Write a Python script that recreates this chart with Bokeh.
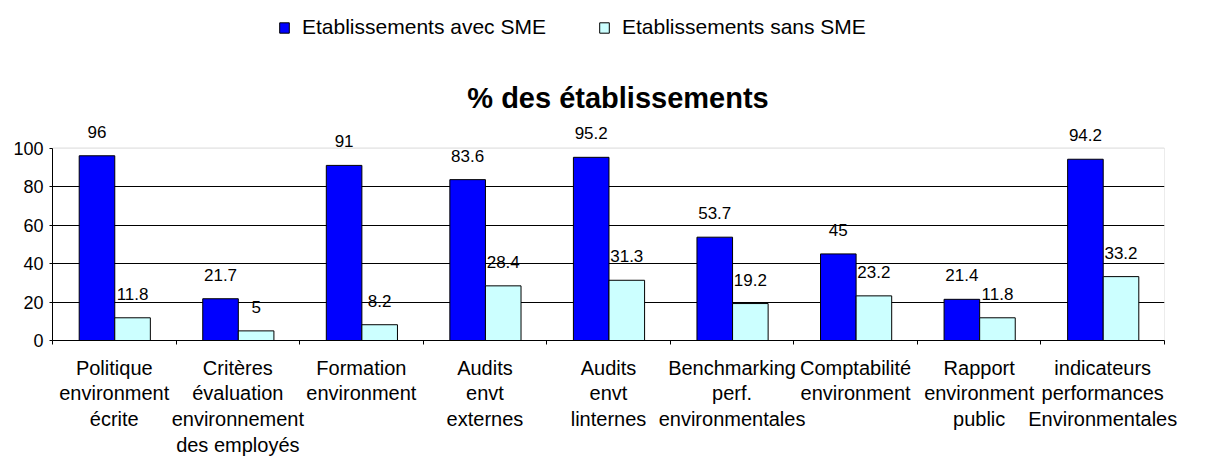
from bokeh.plotting import figure
from bokeh.models import (Range1d, FixedTicker, ColumnDataSource, LabelSet, Label,
                          Legend, LegendItem, BoxAnnotation)
from bokeh.core.properties import value
from bokeh.embed import file_html
from bokeh.resources import INLINE

# ---- data ----
categories = [
    "Politique\nenvironment\nécrite",
    "Critères\névaluation\nenvironnement\ndes employés",
    "Formation\nenvironment",
    "Audits\nenvt\nexternes",
    "Audits\nenvt\nlinternes",
    "Benchmarking\nperf.\nenvironmentales",
    "Comptabilité\nenvironment",
    "Rapport\nenvironment\npublic",
    "indicateurs\nperformances\nEnvironmentales",
]
avec_sme = [96, 21.7, 91, 83.6, 95.2, 53.7, 45, 21.4, 94.2]
sans_sme = [11.8, 5, 8.2, 28.4, 31.3, 19.2, 23.2, 11.8, 33.2]
y_ticks = [0, 20, 40, 60, 80, 100]
series_names = ["Etablissements avec SME", "Etablissements sans SME"]
chart_title = "% des établissements"

FONT = "Liberation Sans"
n = len(categories)
centers = [i + 0.5 for i in range(n)]
y_top = 176.7  # frame reaches the top of the canvas: room for legend and title

src_a = ColumnDataSource(dict(x=[i + 0.36 for i in range(n)], top=avec_sme,
                              label=[f"{v:g}" for v in avec_sme]))
src_s = ColumnDataSource(dict(x=[i + 0.648 for i in range(n)], top=sans_sme,
                              label=[f"{v:g}" for v in sans_sme]))

p = figure(width=1220, height=459, x_range=Range1d(0, n), y_range=Range1d(0, y_top),
           output_backend="svg", toolbar_location=None,
           min_border_left=52, min_border_right=56, min_border_top=0, min_border_bottom=118)

p.background_fill_color = "white"
p.border_fill_color = "white"
p.outline_line_color = None

# plot-area box (0..100)
p.add_layout(BoxAnnotation(left=0, right=n, bottom=0, top=y_ticks[-1], fill_alpha=0,
                           line_color="#808080", line_width=1, level="underlay"))

# title
p.add_layout(Label(x=565.5, y=242.7, x_units="screen", y_units="screen",
                   text=chart_title, text_align="center", text_baseline="middle",
                   text_font=FONT, text_font_size="29px", text_font_style="bold",
                   text_color="black"))

# bars
r1 = p.vbar(x="x", top="top", width=0.288, source=src_a,
            fill_color="#0000FF", line_color="black", line_width=1)
r2 = p.vbar(x="x", top="top", width=0.288, source=src_s,
            fill_color="#CCFFFF", line_color="black", line_width=1)

for src in (src_a, src_s):
    p.add_layout(LabelSet(x="x", y="top", text="label", source=src, y_offset=24,
                          text_align="center", text_baseline="middle",
                          text_font=value(FONT), text_font_size="17px",
                          text_color="black"))

# grid
p.xgrid.visible = False
p.ygrid.ticker = FixedTicker(ticks=y_ticks[:-1])
p.ygrid.grid_line_color = "black"
p.ygrid.grid_line_width = 1

# x axis
xa = p.xaxis[0]
xa.ticker = FixedTicker(ticks=centers, minor_ticks=list(range(n + 1)))
xa.major_label_overrides = {c: lab for c, lab in zip(centers, categories)}
xa.major_tick_in = 0
xa.major_tick_out = 0
xa.major_tick_line_color = None
xa.minor_tick_in = 0
xa.minor_tick_out = 4
xa.minor_tick_line_color = "black"
xa.axis_line_color = "black"
xa.major_label_text_font = FONT
xa.major_label_text_font_size = "20px"
xa.major_label_text_color = "black"
xa.major_label_text_line_height = 1.18
xa.major_label_standoff = 12

# y axis
ya = p.yaxis[0]
ya.ticker = FixedTicker(ticks=y_ticks)
ya.bounds = (y_ticks[0], y_ticks[-1])
ya.major_tick_in = 0
ya.major_tick_out = 3
ya.minor_tick_line_color = None
ya.axis_line_color = "black"
ya.major_tick_line_color = "black"
ya.major_label_text_font = FONT
ya.major_label_text_font_size = "18px"
ya.major_label_text_color = "black"
ya.major_label_standoff = 6

# legend
legend = Legend(items=[LegendItem(label=series_names[0], renderers=[r1]),
                       LegendItem(label=series_names[1], renderers=[r2])],
                orientation="horizontal", location=(226, 301),
                padding=0, margin=0, spacing=52, label_standoff=12,
                glyph_width=12, glyph_height=13,
                border_line_color=None, background_fill_alpha=0,
                label_text_font=FONT, label_text_font_size="21px",
                label_text_color="black")
p.add_layout(legend)

open("out.html", "w").write(file_html(p, INLINE))
